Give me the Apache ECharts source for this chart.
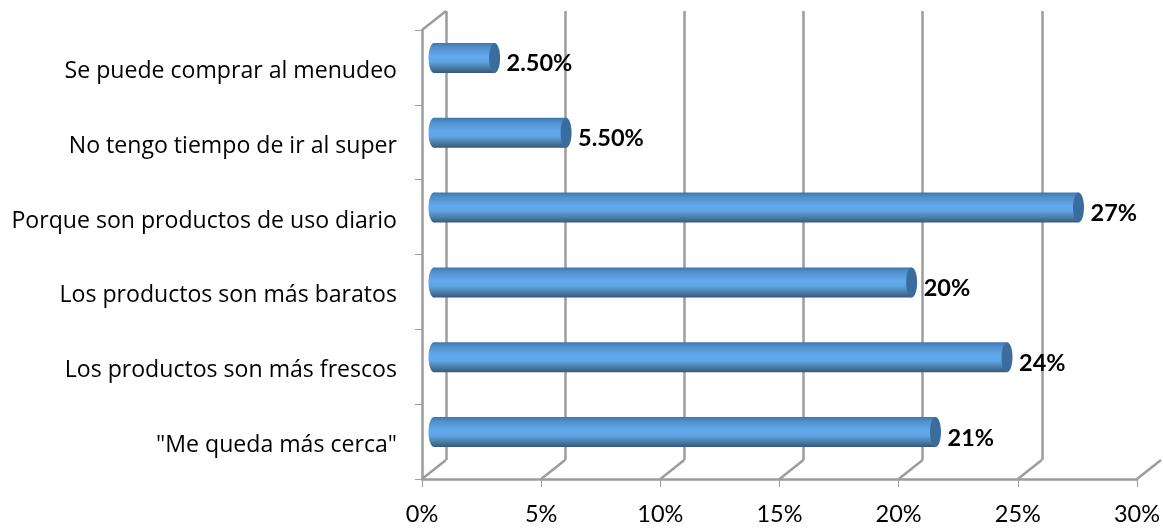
<!DOCTYPE html>
<html><head><meta charset="utf-8">
<style>html,body{margin:0;padding:0;background:#fff}#c{width:1163px;height:528px}</style>
<script src="https://cdn.jsdelivr.net/npm/echarts@6/dist/echarts.min.js"></script>
</head><body><div id="c"></div>
<script>
const categories = ['Se puede comprar al menudeo','No tengo tiempo de ir al super','Porque son productos de uso diario','Los productos son más baratos','Los productos son más frescos','"Me queda más cerca"'];
const values = [2.5, 5.5, 27, 20, 24, 21];
const valueLabels = ['2.50%','5.50%','27%','20%','24%','21%'];
const xTicks = [0,5,10,15,20,25,30];

const FONT = 'Lato, sans-serif';
const CATFONT = '"Open Sans", sans-serif';
const GREY = '#9C9C9C';
const LW = 2.5;
const W = 715, H = 449, L = 422, T = 30, DX = 24, DY = 19;
const grid = (dx, dy) => ({left: L + dx, top: T - dy, width: W, height: H, containLabel: false});
const valAxis = (i, extra) => Object.assign({gridIndex: i, type: 'value', min: 0, max: 30, interval: 5, position: 'bottom',
  axisLabel: {show: false}, axisTick: {show: false}, axisLine: {show: false}, splitLine: {show: false}}, extra);
const catAxis = (i, extra) => Object.assign({gridIndex: i, type: 'category', data: categories, inverse: true,
  axisLabel: {show: false}, axisTick: {show: false}, axisLine: {show: false}, splitLine: {show: false}}, extra);

const barGrad = new echarts.graphic.LinearGradient(0, 0, 0, 1, [
  {offset: 0, color: '#3F77AE'}, {offset: 0.14, color: '#4F8FCB'}, {offset: 0.45, color: '#62AAEE'},
  {offset: 0.62, color: '#5FA5E6'}, {offset: 0.85, color: '#47799F'}, {offset: 1, color: '#36587A'}]);

const option = {
  animation: false,
  backgroundColor: '#fff',
  grid: [grid(0, 0), grid(DX, DY), grid(DX / 2, DY / 2), grid(0, -4)],
  xAxis: [
    valAxis(0, {
      axisLine: {show: true, onZero: false, lineStyle: {color: GREY, width: LW}},
      axisTick: {show: true, length: 8, lineStyle: {color: GREY, width: 1}},
      axisLabel: {show: true, margin: 23, color: '#000', fontFamily: FONT, fontSize: 23.5, formatter: '{value}%', showMaxLabel: true, showMinLabel: true, hideOverlap: false}
    }),
    valAxis(1, {splitLine: {show: true, showMinLine: true, showMaxLine: false, lineStyle: {color: GREY, width: LW}}}),
    valAxis(2),
    valAxis(3)
  ],
  yAxis: [
    catAxis(0, {
      axisLine: {show: true, onZero: false, lineStyle: {color: GREY, width: LW}},
      axisTick: {show: true, length: 7, alignWithLabel: false, lineStyle: {color: GREY, width: 1}}
    }),
    catAxis(1),
    catAxis(2),
    catAxis(3, {
      axisLabel: {show: true, margin: 25, color: '#000', fontFamily: CATFONT, fontSize: 23.1, interval: 0}
    })
  ],
  series: [
    {
      type: 'custom', xAxisIndex: 0, yAxisIndex: 0, coordinateSystem: 'cartesian2d', silent: true, z: 1,
      data: xTicks.map(t => [t]).concat([[0]]),
      renderItem(params, api) {
        const top = params.dataIndex === xTicks.length;
        const x = api.coord([api.value(0), 0])[0];
        const y = top ? params.coordSys.y : params.coordSys.y + params.coordSys.height;
        return {type: 'line', shape: {x1: x, y1: y, x2: x + DX, y2: y - DY}, style: {stroke: GREY, lineWidth: LW}};
      }
    },
    {
      type: 'custom', xAxisIndex: 2, yAxisIndex: 2, coordinateSystem: 'cartesian2d', silent: true, z: 5,
      data: values.map((v, i) => [v, i]),
      renderItem(params, api) {
        const i = api.value(1);
        const start = api.coord([0, i]);
        const end = api.coord([api.value(0), i]);
        const h = 30, rx = 5.5, y = start[1] - h / 2, cy = start[1];
        return {type: 'group', children: [
          {type: 'rect', shape: {x: start[0], y, width: end[0] - start[0] + 1, height: h}, style: {fill: barGrad}},
          {type: 'ellipse', shape: {cx: start[0], cy, rx, ry: h / 2}, style: {fill: barGrad}},
          {type: 'ellipse', shape: {cx: end[0] + 1, cy, rx, ry: h / 2}, style: {fill: '#3A6C9E'}},
          {type: 'text', x: end[0] + 13, y: cy + 6, style: {text: valueLabels[i], fontFamily: FONT, fontSize: 23.5, fontWeight: 'bold', fill: '#000', verticalAlign: 'middle', align: 'left'}}
        ]};
      }
    }
  ]
};
const chart = echarts.init(document.getElementById('c'), null, {renderer: 'canvas'});
chart.setOption(option);
</script></body></html>
